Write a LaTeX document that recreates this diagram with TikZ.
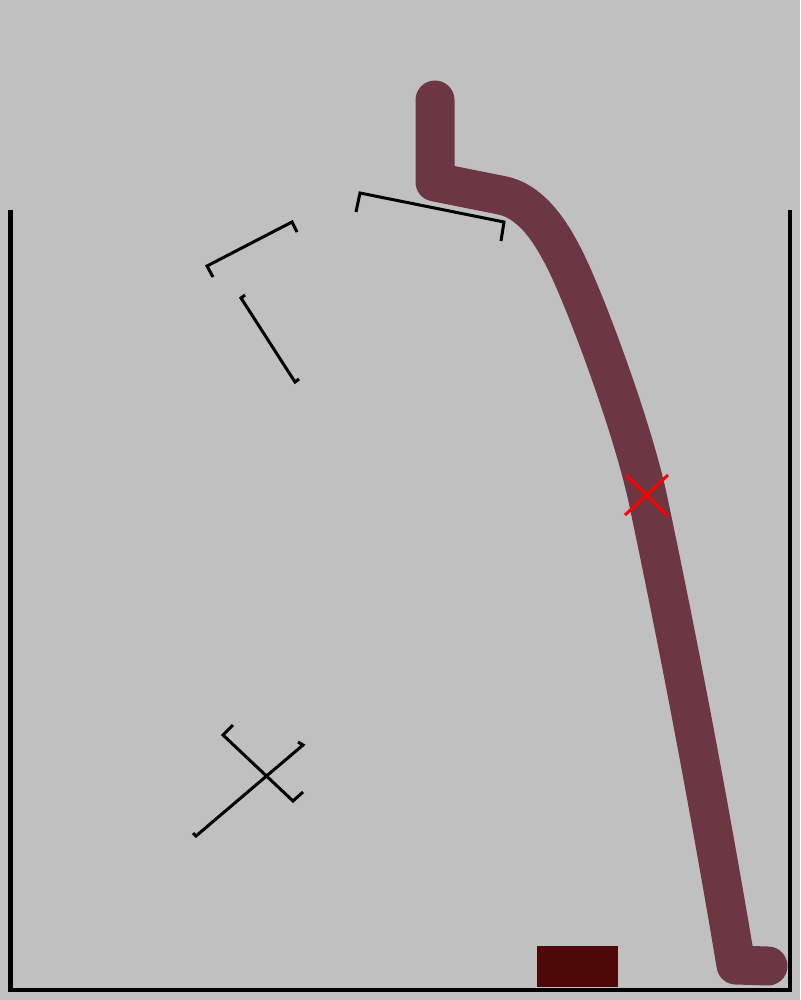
\documentclass[tikz,border=0pt]{standalone}
\begin{document}
\begin{tikzpicture}[x=1pt,y=-1pt,
  wall/.style={line width=4.5pt,black},
  grip/.style={line width=3pt,black},
  arm/.style={line width=39pt,color=armcol,line cap=round,line join=round},
  redmark/.style={line width=3pt,red}]
\definecolor{armcol}{RGB}{108,54,66}
\definecolor{boxcol}{RGB}{77,8,8}
\definecolor{bg}{RGB}{192,192,192}
\fill[bg] (0,0) rectangle (800,1000);
\useasboundingbox (0,0) rectangle (800,1000);
% container
\draw[wall] (10.5,210) -- (10.5,990) -- (790,990) -- (790,210);
% block
\fill[boxcol] (537,946) rectangle (618,987);
% brackets
\draw[grip] (356,212) -- (360,193) -- (504,222) -- (501,241);
\draw[grip] (213,277) -- (207,266) -- (292,222) -- (297,232);
\draw[grip] (245,295) -- (241,298) -- (295,382) -- (299,379);
\draw[grip] (193,833) -- (196,836) -- (303,745) -- (298,742);
\draw[grip] (233,725) -- (223,735) -- (293,801) -- (303,792);
% arm
\coordinate (a0) at (435,100);
\coordinate (a1) at (435,182);
\coordinate (a2) at (500,195);
\coordinate (a3) at (565,260);
\coordinate (a4) at (647,495);
\coordinate (a5) at (736,965);
\coordinate (a6) at (768,966);
\draw[arm] (a0) -- (a1) -- (a2) .. controls (530,200) and (550,230) .. (a3)
  .. controls (585,300) and (630,420) .. (a4)
  .. controls (665,580) and (700,750) .. (a5) -- (a6);
% red mark
\draw[redmark] (625,515) -- (668,475);
\draw[redmark] (626,475) -- (668,516);
\end{tikzpicture}
\end{document}
